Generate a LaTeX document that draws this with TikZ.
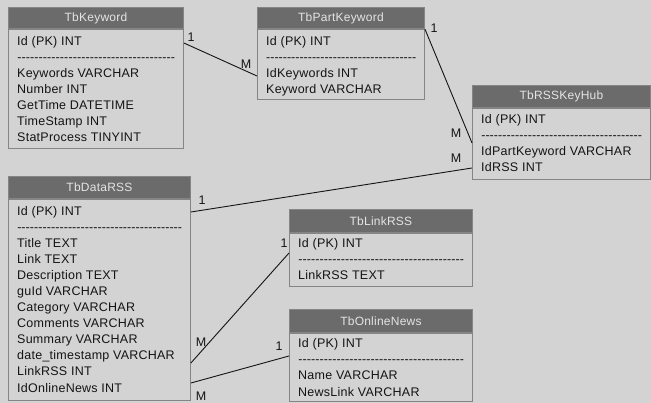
\documentclass[tikz,border=0pt]{standalone}
\usepackage{fontspec}
\setmainfont{Liberation Sans}
\newfontfamily\erfont[LetterSpace=2]{Liberation Sans}
\definecolor{canvas}{HTML}{D3D3D3}
\definecolor{headfill}{HTML}{6B6B6B}
\definecolor{headtext}{HTML}{E4E4E4}
\definecolor{frame}{HTML}{858585}
\definecolor{ink}{HTML}{141414}
\newdimen\erdashw
\newcommand\dashrow{\hbox to\erdashw{\xleaders\hbox{-}\hfill}}
% #1 name, #2 left x, #3 top y, #4 width, #5 header height,
% #6 body height, #7 title, #8 first baseline offset, #9 rows
\newcommand\erTable[9]{%
  \node[erbody, minimum width=#4, minimum height=#6, anchor=north west]
    (#1) at (#2,#3+#5) {};
  \node[erhead, minimum width=#4, minimum height=#5, anchor=south west]
    (#1-head) at (#1.north west) {#7};
  \global\erdashw=\dimexpr#4pt-17pt\relax
  \foreach \t [count=\i from 0] in {#9}
    \node[errow] at ([xshift=9pt, yshift={-(#8+16*\i)*1pt}]#1.north west) {\t};
}
\begin{document}
\begin{tikzpicture}[x=1pt, y=-1pt,
  erbody/.style={draw=frame, line width=0.9pt, fill=canvas, inner sep=0pt},
  erhead/.style={draw=frame, line width=0.9pt, fill=headfill, inner sep=0pt,
    text=headtext, font=\erfont\fontsize{12}{13}\selectfont},
  errow/.style={anchor=base west, inner sep=0pt, text=ink,
    font=\erfont\fontsize{12.5}{14}\selectfont},
  link/.style={draw=ink, line width=0.9pt},
  card/.style={inner sep=0pt, text=ink, font=\erfont\fontsize{12.5}{14}\selectfont}]
  \fill[canvas] (0,0) rectangle (651,403);
  \useasboundingbox (0,0) rectangle (651,403);

  % tables
  \erTable{kw}{8}{8}{175}{21}{119}{TbKeyword}{17}%
    {Id (PK) INT,\dashrow,Keywords VARCHAR,Number INT,GetTime DATETIME,TimeStamp INT,StatProcess TINYINT}
  \erTable{pk}{257}{8}{167}{21}{70}{TbPartKeyword}{17}%
    {Id (PK) INT,\dashrow,IdKeywords INT,Keyword VARCHAR}
  \erTable{hub}{472}{86}{178}{22}{71}{TbRSSKeyHub}{16}%
    {Id (PK) INT,\dashrow,IdPartKeyword VARCHAR,IdRSS INT}
  \erTable{rss}{8}{177}{182}{22}{201}{TbDataRSS}{17}%
    {Id (PK) INT,\dashrow,Title TEXT,Link TEXT,Description TEXT,guId VARCHAR,Category VARCHAR,Comments VARCHAR,Summary VARCHAR,date\_timestamp VARCHAR,LinkRSS INT,IdOnlineNews INT}
  \erTable{lnk}{289}{210}{183}{23}{53}{TbLinkRSS}{15}%
    {Id (PK) INT,\dashrow,LinkRSS TEXT}
  \erTable{news}{289}{310}{183}{23}{68}{TbOnlineNews}{15}%
    {Id (PK) INT,\dashrow,Name VARCHAR,NewsLink VARCHAR}

  % relations
  \draw[link] ([yshift=-14pt]kw.north east) -- ([yshift=-47pt]pk.north west);
  \draw[link] (pk.north east) -- ([yshift=-35pt]hub.north west);
  \draw[link] ([yshift=-13pt]rss.north east) -- ([yshift=-60pt]hub.north west);
  \draw[link] ([yshift=-164pt]rss.north east) -- ([yshift=-20pt]lnk.north west);
  \draw[link] ([yshift=-184pt]rss.north east) -- ([yshift=-23pt]news.north west);

  % cardinalities
  \node[card] (c1a) at (191,37) {1};
  \node[card] (c1b) at (246,64) {M};
  \node[card] (c2a) at (434,28) {1};
  \node[card] (c2b) at (456,133) {M};
  \node[card] (c3a) at (202,200) {1};
  \node[card] (c3b) at (456,158) {M};
  \node[card] (c4a) at (284,243) {1};
  \node[card] (c4b) at (201,342) {M};
  \node[card] (c5a) at (279,346) {1};
  \node[card] (c5b) at (201,396) {M};
\end{tikzpicture}
\end{document}
